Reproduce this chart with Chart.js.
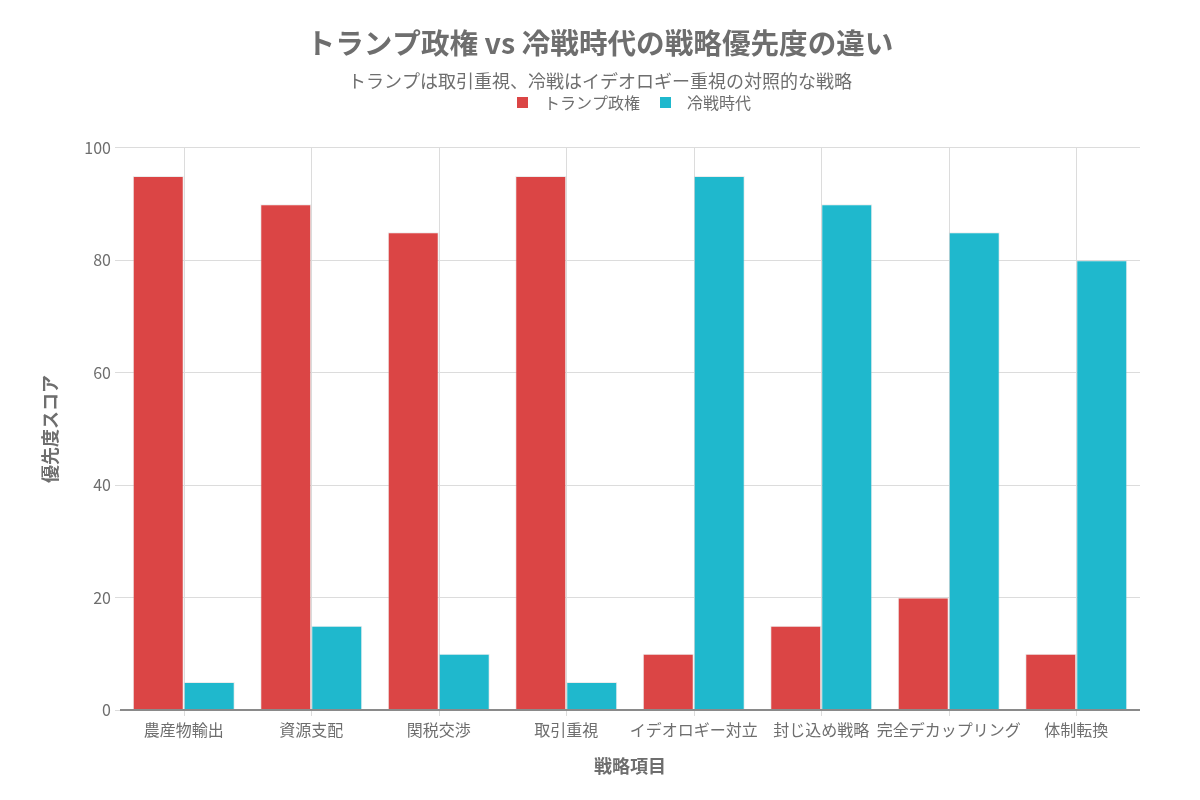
<!DOCTYPE html>
<html lang="ja">
<head>
<meta charset="utf-8">
<title>トランプ政権 vs 冷戦時代の戦略優先度の違い</title>
<script src="https://cdn.jsdelivr.net/npm/chart.js@4.4.1/dist/chart.umd.min.js"></script>
<style>
  html, body { margin:0; padding:0; background:#fff; }
  #wrap { width:1200px; height:800px; position:relative; }
</style>
</head>
<body>
<div id="wrap"><canvas id="chart"></canvas></div>
<script>
/* ---- データ ---- */
const categories = ['農産物輸出', '資源支配', '関税交渉', '取引重視', 'イデオロギー対立', '封じ込め戦略', '完全デカップリング', '体制転換'];
const trumpScores = [95, 90, 85, 95, 10, 15, 20, 10];
const coldWarScores = [5, 15, 10, 5, 95, 90, 85, 80];
const yTicks = [0, 20, 40, 60, 80, 100];

const FONT = '"Noto Sans CJK JP", "Noto Sans", sans-serif';
const TXT = '#6e6e6e';
const LEGEND_H = 65;     // 凡例ボックスの高さ（プロット上端まで）
const LEGEND_SHIFT = 30; // 凡例を少し右へ

/* 凡例: 高さ固定 + 横位置ずらし */
const legendFix = {
  id: 'legendFix',
  beforeLayout(chart) {
    const lg = chart.legend;
    if (lg && !lg._fixed) {
      const fit = lg.fit.bind(lg);
      lg.fit = function () { fit(); this.height = LEGEND_H; };
      lg._fixed = true;
    }
  },
  afterLayout(chart) {
    const lg = chart.legend;
    if (lg) { lg.left += LEGEND_SHIFT; lg.right += LEGEND_SHIFT; }
  }
};

/* 縦グリッドはカテゴリ中央（棒の間）に引く + x軸線 */
const catGrid = {
  id: 'catGrid',
  beforeDatasetsDraw(chart) {
    const {ctx, chartArea: a, scales: {x}} = chart;
    ctx.save();
    ctx.strokeStyle = '#dcdcdc';
    ctx.lineWidth = 1;
    categories.forEach((c, i) => {
      const px = Math.round(x.getPixelForValue(i)) + 0.5;
      ctx.beginPath(); ctx.moveTo(px, a.top); ctx.lineTo(px, a.bottom + 6); ctx.stroke();
    });
    ctx.restore();
  },
  afterDatasetsDraw(chart) {
    const {ctx, chartArea: a} = chart;
    ctx.save();
    ctx.strokeStyle = '#8a8a8a';
    ctx.lineWidth = 2;
    ctx.beginPath(); ctx.moveTo(a.left, a.bottom); ctx.lineTo(a.right, a.bottom); ctx.stroke();
    ctx.restore();
  }
};

/* 凡例の四角（11px）を画像として渡し、文字との間隔を広めにとる */
const legendBox = color => {
  const c = document.createElement('canvas');
  c.width = 11; c.height = 11;
  const g = c.getContext('2d');
  g.fillStyle = color; g.fillRect(0, 0, 11, 11);
  return c;
};

new Chart(document.getElementById('chart'), {
  type: 'bar',
  data: {
    labels: categories,
    datasets: [
      { label: 'トランプ政権', data: trumpScores, backgroundColor: '#DB4545',
        borderColor: 'rgba(200,200,200,0.35)', borderWidth: 1 },
      { label: '冷戦時代', data: coldWarScores, backgroundColor: '#1FB8CD',
        borderColor: 'rgba(200,200,200,0.35)', borderWidth: 1 }
    ]
  },
  plugins: [legendFix, catGrid],
  options: {
    responsive: true,
    maintainAspectRatio: false,
    animation: false,
    layout: { padding: { left: 60, right: 60, top: 0, bottom: 19 } },
    datasets: { bar: { categoryPercentage: 0.8, barPercentage: 1.0 } },
    plugins: {
      title: {
        display: true,
        text: 'トランプ政権 vs 冷戦時代の戦略優先度の違い',
        color: TXT,
        font: { family: FONT, size: 28.6, weight: 'bold' },
        padding: { top: 26, bottom: 5 }
      },
      subtitle: {
        display: true,
        text: 'トランプは取引重視、冷戦はイデオロギー重視の対照的な戦略',
        color: TXT,
        font: { family: FONT, size: 18 },
        padding: { top: 5, bottom: -9 }
      },
      legend: {
        position: 'top',
        labels: {
          color: TXT,
          font: { family: FONT, size: 16 },
          usePointStyle: true,
          pointStyleWidth: 27,
          boxHeight: 11,
          padding: 12,
          generateLabels(chart) {
            const items = Chart.defaults.plugins.legend.labels.generateLabels(chart);
            items.forEach(it => { it.pointStyle = legendBox(it.fillStyle); });
            return items;
          }
        }
      },
      tooltip: { enabled: false }
    },
    scales: {
      x: {
        grid: { display: false, drawTicks: false },
        border: { display: false },
        ticks: { color: TXT, font: { family: FONT, size: 16 }, maxRotation: 0, autoSkip: false, padding: 10 },
        title: { display: true, text: '戦略項目', color: TXT,
                 font: { family: FONT, size: 18, weight: 'bold' }, padding: { top: 4, bottom: 4 } },
        afterFit: s => { s.height = 71; }
      },
      y: {
        min: 0, max: 100,
        afterBuildTicks: s => { s.ticks = yTicks.map(v => ({ value: v })); },
        grid: { color: '#dcdcdc', tickLength: 5, tickColor: '#dcdcdc' },
        border: { display: false },
        ticks: { color: TXT, font: { family: FONT, size: 16 }, padding: 4 },
        title: { display: true, text: '優先度スコア', color: TXT,
                 font: { family: FONT, size: 18, weight: 'bold' }, padding: { top: -21, bottom: 0 } },
        afterFit: s => { s.width = 60; }
      }
    }
  }
});
</script>
</body>
</html>
